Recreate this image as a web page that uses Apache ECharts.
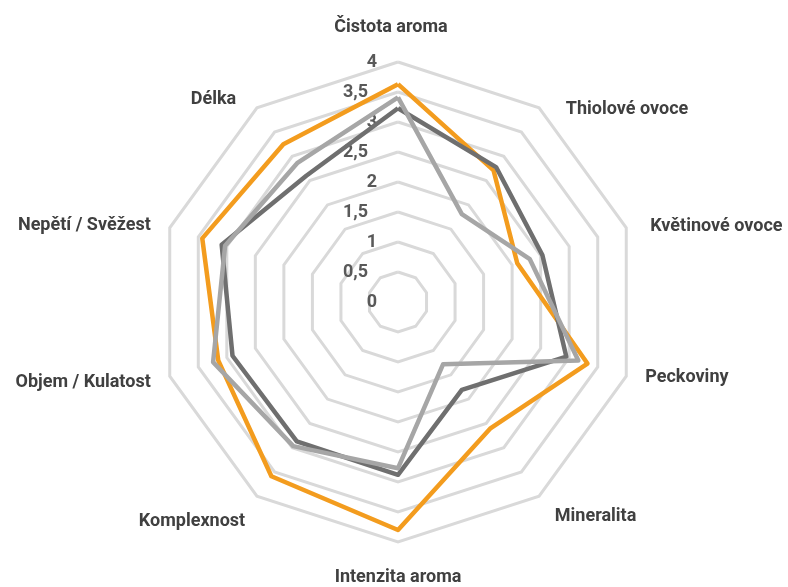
<!DOCTYPE html>
<html lang="cs">
<head>
<meta charset="UTF-8">
<title>Radar</title>
<script src="https://cdn.jsdelivr.net/npm/echarts@6/dist/echarts.min.js"></script>
<style>
  html, body { margin: 0; padding: 0; background: #fff; }
  #chart { width: 788px; height: 587px; }
</style>
</head>
<body>
<div id="chart"></div>
<script>
// categories clockwise from the top
var categories = ['Čistota aroma', 'Thiolové ovoce', 'Květinové ovoce', 'Peckoviny', 'Mineralita',
                  'Intenzita aroma', 'Komplexnost', 'Objem / Kulatost', 'Nepětí / Svěžest', 'Délka'];
var seriesOrange = [3.63, 2.71, 2.09, 3.32, 2.61, 3.8, 3.59, 3.15, 3.43, 3.25];
var seriesDark   = [3.23, 2.78, 2.53, 2.95, 1.81, 2.88, 2.87, 2.9, 3.09, 2.6];
var seriesLight  = [3.41, 1.81, 2.31, 3.16, 1.28, 2.77, 2.97, 3.24, 3.03, 2.86];
var scaleMax = 4;
var scaleStep = 0.5;

// echarts radar goes counterclockwise, so keep the first one and reverse the rest
function ccw(arr) {
    return [arr[0]].concat(arr.slice(1).reverse());
}

// small nudges so the names sit where excel put them
var namePad = [
    [0, 14, 6, 0], [36, 0, 0, 15], [10, 0, 0, 5], [0, 0, 10, 0], [8, 0, 0, 4],
    [6, 0, 0, 0], [18, 0, 0, 0], [0, 0, 0, 0], [8, 0, 0, 0], [16, 9, 0, 0]
];
var nameRich = {};
categories.forEach(function (c, i) {
    nameRich['n' + i] = {
        color: '#404040', fontFamily: 'Roboto', fontWeight: 'bold', fontSize: 18,
        padding: namePad[i]
    };
});

var chart = echarts.init(document.getElementById('chart'));
var center = [398, 302];
var radius = 240;

var option = {
    animation: false,
    radar: {
        center: center,
        radius: radius,
        shape: 'polygon',
        startAngle: 90,
        splitNumber: scaleMax / scaleStep,
        indicator: ccw(categories).map(function (c) { return { name: c, min: 0, max: scaleMax }; }),
        axisName: {
            color: '#404040',
            fontFamily: 'Roboto',
            fontWeight: 'bold',
            fontSize: 18,
            formatter: function (name) {
                return '{n' + categories.indexOf(name) + '|' + name + '}';
            },
            rich: nameRich
        },
        nameGap: 20,
        axisLine: { show: false },
        axisTick: { show: false },
        splitArea: { show: false },
        splitLine: { lineStyle: { color: '#d9d9d9', width: 3 } }
    },
    polar: { center: center, radius: radius },
    angleAxis: {
        show: false,
        startAngle: 90,
        min: 0,
        max: 360
    },
    radiusAxis: {
        min: 0,
        max: scaleMax,
        interval: scaleStep,
        axisLine: { show: false },
        axisTick: { show: false },
        splitLine: { show: false },
        axisLabel: {
            show: true,
            margin: 21,
            color: '#595959',
            fontFamily: 'Roboto',
            fontWeight: 'bold',
            fontSize: 18,
            formatter: function (v) {
                var s = String(v).replace('.', ',');
                return v % 1 ? '{d|' + s + '}' : s;
            },
            rich: {
                d: { color: '#595959', fontFamily: 'Roboto', fontWeight: 'bold', fontSize: 18, padding: [0, 9, 0, 0] }
            }
        }
    },
    series: [{
        type: 'radar',
        symbol: 'none',
        data: [
            { value: ccw(seriesOrange), lineStyle: { color: '#f39c1e', width: 4.5 } },
            { value: ccw(seriesDark), lineStyle: { color: '#6f6f6f', width: 4.5 } },
            { value: ccw(seriesLight), lineStyle: { color: '#a6a6a6', width: 4.5 } }
        ]
    }]
};
chart.setOption(option);
</script>
</body>
</html>
